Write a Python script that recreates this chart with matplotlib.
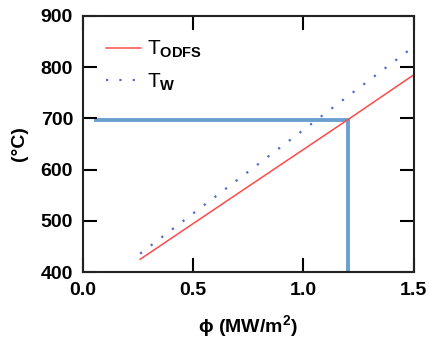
import matplotlib
matplotlib.use("Agg")
import matplotlib.pyplot as plt

plt.rcParams['font.family'] = ['Liberation Sans', 'DejaVu Sans']
plt.rcParams['mathtext.fontset'] = 'custom'
plt.rcParams['mathtext.rm'] = 'Liberation Sans'
plt.rcParams['mathtext.bf'] = 'Liberation Sans:bold'
plt.rcParams['mathtext.default'] = 'bf'

# data
phi = [0.26, 0.75, 1.21, 1.5]
t_odfs = [425, 567, 700, 785]
t_w = [436, 596, 746, 840]

# marker lines for the operating point
mark_phi = [0.06, 1.2, 1.2]
mark_t = [697, 697, 400]

fig = plt.figure(figsize=(4.31, 3.38), dpi=100)
ax = fig.add_axes([0.192, 0.195, 0.768, 0.758])

ax.plot(mark_phi, mark_t, color='#6aa0d0', lw=2.8, zorder=1)
ax.plot(phi, t_odfs, color='#ff4a4a', lw=1.1, label=r'T$_{ODFS}$', zorder=2)
ax.plot(phi, t_w, color='#5a66c8', lw=1.6, ls=(0, (1, 5)), label=r'T$_{W}$', zorder=2)

ax.set_xlim(0, 1.5)
ax.set_ylim(400, 900)
ax.set_xticks([0.0, 0.5, 1.0, 1.5])
ax.set_yticks([400, 500, 600, 700, 800, 900])
ax.set_xticklabels(['0.0', '0.5', '1.0', '1.5'])
ax.tick_params(direction='in', length=10, width=1.5, top=True, right=True,
               labelsize=14, pad=7)
for lbl in ax.get_xticklabels() + ax.get_yticklabels():
    lbl.set_fontweight('bold')
for s in ax.spines.values():
    s.set_linewidth(1.5)
    s.set_color('#222222')

ax.set_xlabel('\u03d5 (MW/m$^{2}$)', fontsize=14, fontweight='bold', labelpad=10)
ax.set_ylabel('(°C)', fontsize=14, fontweight='bold', labelpad=9)

leg = ax.legend(loc='upper left', frameon=False, fontsize=15, handlelength=1.7,
                handletextpad=0.3, labelspacing=0.55, borderaxespad=0.7)

fig.savefig('out.png', dpi=100)
